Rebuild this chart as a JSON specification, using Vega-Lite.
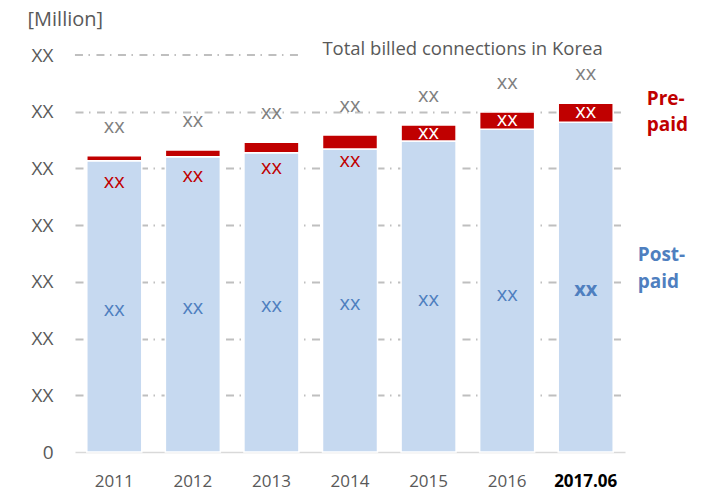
{
  "$schema": "https://vega.github.io/schema/vega-lite/v6.json",
  "width": 550,
  "height": 397,
  "autosize": "none",
  "padding": {"left": 75, "top": 55, "right": 79, "bottom": 40},
  "config": {"view": {"stroke": null}, "font": "Open Sans"},
  "data": {"values": [
    {"year": "2011", "post": 51.35, "pre": 0.9, "total": 52.25},
    {"year": "2012", "post": 52.05, "pre": 1.2, "total": 53.25},
    {"year": "2013", "post": 52.76, "pre": 1.84, "total": 54.6},
    {"year": "2014", "post": 53.43, "pre": 2.47, "total": 55.9},
    {"year": "2015", "post": 54.84, "pre": 2.82, "total": 57.66},
    {"year": "2016", "post": 56.9, "pre": 3.05, "total": 59.95},
    {"year": "2017.06", "post": 58.14, "pre": 3.36, "total": 61.5}
  ]},
  "encoding": {
    "x": {
      "field": "year", "type": "nominal", "sort": null,
      "scale": {"paddingInner": 0.3, "paddingOuter": 0.15},
      "axis": {
        "title": null, "labelAngle": 0, "ticks": false,
        "domainColor": "#d9d9d9", "domainWidth": 1.5,
        "labelFontSize": 17, "labelPadding": 21,
        "labelColor": {"condition": {"test": "datum.value == '2017.06'", "value": "#000000"}, "value": "#595959"},
        "labelFontWeight": {"condition": {"test": "datum.value == '2017.06'", "value": "bold"}, "value": "normal"}
      }
    }
  },
  "layer": [
    {
      "layer": [
        {
          "mark": {"type": "bar", "color": "#c6d9f0", "stroke": "white", "strokeWidth": 1.5},
          "encoding": {
            "y": {
              "field": "post", "type": "quantitative",
              "scale": {"domain": [0, 70], "nice": false, "zero": true},
              "axis": {
                "title": "[Million]", "titleAngle": 0, "titleAlign": "left", "titleBaseline": "middle",
                "titleX": -48, "titleY": -36, "titleFontSize": 20, "titleFontWeight": "normal", "titleColor": "#595959",
                "values": [0, 10, 20, 30, 40, 50, 60, 70],
                "labelExpr": "datum.value == 0 ? '0' : 'XX'",
                "labelFontSize": 19, "labelColor": "#595959", "labelPadding": 22,
                "domain": false, "ticks": false,
                "gridDash": [8, 5.5, 1.5, 6.5], "gridColor": "#bfbfbf", "gridWidth": 1.8,
                "gridOpacity": {"condition": {"test": "datum.value == 0 || datum.value == 70", "value": 0}, "value": 1}
              }
            }
          }
        },
        {
          "mark": {"type": "bar", "color": "#c00000", "stroke": "white", "strokeWidth": 1.5},
          "encoding": {
            "y": {"field": "post", "type": "quantitative"},
            "y2": {"field": "total"}
          }
        },
        {
          "mark": {"type": "text", "text": "xx", "fontSize": 20, "color": "#808080", "baseline": "middle", "dy": -29},
          "encoding": {"y": {"field": "total", "type": "quantitative"}}
        },
        {
          "transform": [{"filter": "datum.pre < 2.6"}],
          "mark": {"type": "text", "text": "xx", "fontSize": 20, "color": "#c00000", "baseline": "middle", "dy": 26},
          "encoding": {"y": {"field": "total", "type": "quantitative"}}
        },
        {
          "transform": [{"filter": "datum.pre >= 2.6"}],
          "mark": {"type": "text", "text": "xx", "fontSize": 20, "color": "#ffffff", "baseline": "middle", "dy": 8.5},
          "encoding": {"y": {"field": "total", "type": "quantitative"}}
        },
        {
          "transform": [{"filter": "datum.year == '2017.06'"}],
          "mark": {"type": "text", "text": ["Pre-", "paid"], "fontSize": 19, "fontWeight": "bold", "color": "#c00000", "align": "left", "baseline": "middle", "lineHeight": 26, "dx": 61, "dy": -4},
          "encoding": {"y": {"field": "total", "type": "quantitative"}}
        },
        {
          "transform": [{"filter": "datum.year == '2017.06'"}],
          "mark": {"type": "text", "text": "Total billed connections in Korea", "fontSize": 18.5, "color": "#595959", "align": "right", "baseline": "middle", "dx": 17, "dy": -6},
          "encoding": {"y": {"datum": 70, "type": "quantitative"}}
        },
        {
          "transform": [{"filter": "datum.year == '2011'"}],
          "mark": {"type": "rule", "color": "#bfbfbf", "strokeWidth": 1.8, "strokeDash": [8, 5.5, 1.5, 6.5]},
          "encoding": {
            "x": {"datum": "2011", "bandPosition": -0.215},
            "x2": {"datum": "2013", "bandPosition": 1.07},
            "y": {"datum": 70, "type": "quantitative"}
          }
        }
      ]
    },
    {
      "layer": [
        {
          "transform": [{"filter": "datum.year != '2017.06'"}],
          "mark": {"type": "text", "text": "xx", "fontSize": 20, "color": "#4f7fbf", "baseline": "middle", "dy": 4},
          "encoding": {
            "y": {"field": "post", "type": "quantitative", "scale": {"domain": [0, 140], "nice": false, "zero": true}, "axis": null}
          }
        },
        {
          "transform": [{"filter": "datum.year == '2017.06'"}],
          "mark": {"type": "text", "text": "xx", "fontSize": 20, "fontWeight": "bold", "color": "#4f7fbf", "baseline": "middle", "dy": 3},
          "encoding": {
            "y": {"field": "post", "type": "quantitative"}
          }
        },
        {
          "transform": [{"filter": "datum.year == '2017.06'"}],
          "mark": {"type": "text", "text": ["Post-", "paid"], "fontSize": 19, "fontWeight": "bold", "color": "#4f7fbf", "align": "left", "baseline": "middle", "lineHeight": 27, "dx": 52, "dy": -32},
          "encoding": {"y": {"field": "post", "type": "quantitative"}}
        }
      ]
    }
  ],
  "resolve": {"scale": {"y": "independent"}}
}
